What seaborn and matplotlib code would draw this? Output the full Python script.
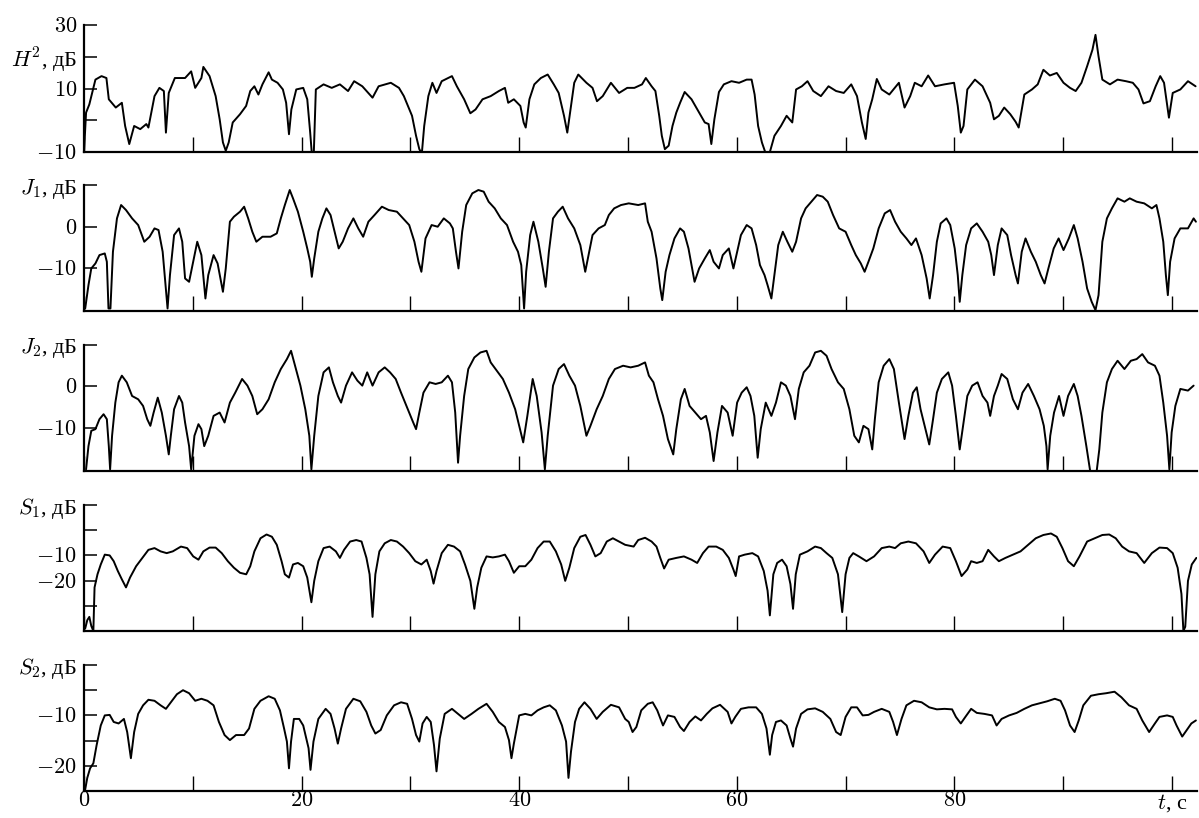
import numpy as np
import pandas as pd
import matplotlib
matplotlib.use("Agg")
import matplotlib.pyplot as plt
import seaborn as sns

# ---------------- data ----------------
t_h2 = [0, 0.19, 0.49, 1.05, 1.61, 2.06, 2.28, 2.92, 3.48, 3.78, 4.16, 4.61, 5.17, 5.73, 5.92,
        6.48, 6.93, 7.34, 7.53, 7.79, 8.35, 9.29, 9.85, 10.22, 10.79, 10.97, 11.54, 12.1, 12.47,
        12.77, 13.03, 13.3, 13.67, 14.34, 14.9, 15.28, 15.66, 16.03, 16.4, 16.97, 17.27, 17.79,
        18.28, 18.58, 18.84, 19.06, 19.51, 20.15, 20.52, 20.79, 20.94, 21.12, 21.31, 22.02, 22.77,
        23.52, 24.27, 24.83, 25.58, 26.52, 27.08, 28.2, 28.95, 29.4, 29.78, 30.15, 30.52, 30.82,
        31.05, 31.27, 31.65, 32.02, 32.4, 32.88, 33.82, 34.27, 34.94, 35.51, 35.99, 36.63, 37.38,
        38.13, 38.69, 38.99, 39.51, 40.11, 40.41, 40.6, 40.94, 41.39, 41.99, 42.62, 43.18, 43.63,
        44.12, 44.42, 44.68, 45.06, 45.43, 46.18, 46.74, 47.15, 47.68, 48.43, 49.18, 49.93,
        50.59, 51.29, 51.64, 52.17, 52.52, 52.87, 53.11, 53.39, 53.74, 54.09, 54.44, 54.79, 55.21,
        55.84, 56.54, 57.06, 57.41, 57.66, 57.94, 58.36, 58.81, 59.51, 60.21, 60.91, 61.36, 61.64,
        61.96, 62.31, 62.66, 63.0, 63.46, 64.06, 64.58, 65.1, 65.45, 65.98, 66.5, 67.03, 67.73,
        68.43, 69.13, 69.83, 70.52, 71.05, 71.5, 71.85, 72.1, 72.45, 72.87, 73.32, 74.02, 74.9,
        75.42, 75.94, 76.36, 76.99, 77.59, 78.22, 79.09, 79.97, 80.31, 80.59, 80.84, 81.19, 81.89,
        82.59, 83.29, 83.64, 84.09, 84.58, 85.14, 85.63, 85.91, 86.43, 87.13, 87.66, 88.18, 88.78,
        89.41, 90.03, 90.63, 91.15, 91.68, 92.2, 92.69, 92.97, 93.25, 93.6, 94.3, 95.0, 95.77,
        96.4, 96.92, 97.38, 97.97, 98.5, 98.92, 99.27, 99.72, 100.07, 100.77, 101.47, 102.17]
h2_db = [-10, 2.4, 5.0, 12.8, 13.9, 13.3, 6.6, 4.0, 5.5, -1.8, -7.5, -1.8, -2.8, -1.2, -2.3,
         7.6, 10.2, 9.2, -3.9, 8.6, 13.3, 13.3, 15.4, 10.2, 13.3, 16.8, 13.9, 7.6, 0.3,
         -7.0, -9.6, -7.0, -0.7, 1.9, 4.5, 9.2, 10.7, 8.1, 11.3, 15.1, 12.8, 11.8,
         9.7, 5.5, -4.4, 3.4, 9.7, 10.2, 6.6, -3.9, -10.5, -10.5, 9.7, 11.3, 10.2,
         11.3, 9.2, 12.3, 10.7, 7.1, 10.7, 11.8, 10.2, 7.6, 4.5, 1.4, -4.9, -9.1,
         -10.5, -1.8, 7.6, 11.8, 8.6, 12.3, 13.9, 10.7, 6.6, 2.2, 3.4, 6.6, 7.6,
         9.2, 10.2, 5.5, 6.6, 4.5, -0.7, -2.3, 6.6, 11.3, 13.3, 14.4, 11.3, 8.6,
         1.4, -3.9, 2.4, 11.8, 14.4, 11.8, 10.2, 6.0, 7.6, 11.8, 8.6, 10.2,
         10.2, 11.3, 13.3, 10.7, 9.2, 1.4, -4.9, -9.1, -8.0, -1.8, 2.4, 5.5, 8.9,
         6.6, 2.4, -0.7, -1.2, -7.5, 0.3, 8.9, 11.3, 12.3, 11.8, 12.8, 12.8, 8.1,
         -1.8, -7.0, -10.5, -10.5, -4.9, -1.8, 1.4, -0.7, 9.7, 10.7, 12.3, 9.2, 7.6,
         10.7, 9.2, 8.6, 11.3, 7.6, -0.7, -5.9, 2.4, 6.6, 13.0, 9.7, 8.1, 11.8,
         4.0, 7.6, 11.8, 10.7, 14.1, 10.7, 11.3, 11.8, 4.5, -3.9, -1.8, 9.7, 12.8,
         10.7, 5.5, 0.3, 1.4, 4.0, 1.9, -0.5, -2.3, 8.1, 9.7, 11.3, 15.9, 14.1,
         14.9, 11.8, 10.2, 9.2, 11.8, 17.0, 22.2, 26.9, 20.1, 12.8, 11.3, 12.8, 12.3,
         11.8, 9.7, 5.3, 6.0, 10.7, 13.9, 11.8, 0.8, 8.6, 9.7, 12.3, 10.7]

t_j1 = [0.11, 0.41, 0.67, 1.05, 1.42, 1.91, 2.1, 2.25, 2.43, 2.66, 3.03, 3.41, 3.86, 4.42, 4.98,
        5.54, 6.03, 6.48, 6.85, 7.23, 7.53, 7.68, 7.9, 8.28, 8.73, 9.03, 9.29, 9.66, 10.04, 10.41,
        10.79, 11.16, 11.42, 11.91, 12.28, 12.77, 13.03, 13.41, 13.78, 14.34, 14.72, 15.09, 15.47,
        15.84, 16.4, 17.15, 17.72, 18.09, 18.46, 18.91, 19.21, 19.66, 20.15, 20.52, 20.79, 20.94,
        21.16, 21.54, 21.91, 22.28, 22.66, 23.03, 23.41, 23.78, 24.27, 24.76, 25.21, 25.66, 26.14,
        26.7, 27.38, 28.01, 28.76, 29.33, 29.89, 30.37, 30.75, 31.01, 31.39, 31.95, 32.51, 33.07,
        33.63, 33.9, 34.19, 34.42, 34.76, 35.13, 35.69, 36.25, 36.74, 37.19, 37.75, 38.31, 38.88,
        39.44, 39.89, 40.19, 40.45, 40.64, 41.01, 41.31, 41.76, 42.17, 42.43, 42.73, 43.11, 43.56,
        44.0, 44.49, 45.06, 45.62, 46.07, 46.25, 46.74, 47.3, 47.87, 48.24, 48.73, 49.36,
        50.07, 50.94, 51.57, 51.82, 52.17, 52.62, 52.97, 53.15, 53.46, 53.81, 54.27, 54.79, 55.14,
        55.56, 55.84, 56.12, 56.54, 57.06, 57.52, 57.87, 58.36, 58.71, 59.27, 59.69, 59.97, 60.38,
        60.91, 61.36, 61.78, 62.13, 62.55, 62.83, 63.18, 63.46, 63.81, 64.23, 64.65, 65.1, 65.45,
        65.91, 66.33, 66.85, 67.38, 67.9, 68.36, 68.85, 69.41, 70.0, 70.52, 70.94, 71.4, 71.75,
        72.1, 72.55, 73.04, 73.6, 74.09, 74.55, 75.07, 75.59, 76.05, 76.47, 76.99, 77.45, 77.73,
        78.04, 78.39, 78.74, 79.27, 79.62, 80.03, 80.31, 80.49, 80.73, 81.08, 81.54, 82.06, 82.59,
        83.11, 83.39, 83.64, 83.99, 84.34, 84.86, 85.21, 85.63, 85.84, 86.19, 86.54, 87.03, 87.48,
        87.94, 88.29, 88.64, 89.13, 89.58, 90.03, 90.52, 90.98, 91.33, 91.78, 92.2, 92.62, 92.97,
        93.25, 93.6, 94.02, 94.48, 95.0, 95.63, 96.12, 96.75, 97.45, 98.15, 98.57, 98.85, 99.2,
        99.44, 99.62, 99.83, 100.24, 100.77, 101.47, 101.99, 102.2]
j1_db = [-19.6, -14, -10, -8.8, -6.8, -6.4, -8.4, -19.6, -19.6, -6, 2, 5.2, 4, 2, 0.4,
         -3.6, -2.4, -0.4, -0.8, -6, -15.2, -19.6, -11.6, -2, -0.4, -3.6, -12.4, -13.2, -8.4, -3.6,
         -6.8, -17.2, -11.6, -6.8, -8.8, -15.6, -10, 1.2, 2.4, 3.6, 4.8, 2, -1.2,
         -3.6, -2.4, -2.4, -1.6, 2, 5.2, 8.8, 6.8, 3.6, -1.2, -5.2, -8.4, -12,
         -7.6, -1.2, 2, 4.4, 2.8, -1.2, -5.2, -3.6, -0.4, 2, -0.4, -2.4, 1.2,
         2.8, 4.8, 4, 3.6, 2, 0.4, -3.6, -8.4, -10.8, -2.8, 0.4, 0, 2,
         0.8, -0.4, -6, -10, -1.2, 5.2, 8, 8.8, 8.4, 6, 4.4, 2, 0.4,
         -3.6, -6, -9.2, -19.6, -10.8, -2, 1.2, -3.6, -10, -14.4, -6, 2, 3.6,
         4.8, 2, -0.4, -4.4, -10.8, -8.4, -2, -0.4, 0.4, 2.8, 4.4, 5.2,
         5.6, 5.2, 5.6, 1.2, -1.2, -7.6, -14.8, -17.6, -10.8, -6.8, -2.8, -0.4, -1.2,
         -5.2, -9.2, -13.2, -10, -7.6, -5.6, -8.4, -10, -6.8, -5.2, -10, -6.8, -2,
         0.4, -0.4, -4.4, -9.2, -11.6, -14, -17.2, -11.6, -4.4, -1.2, -3.6, -6, -3.6,
         2, 4.4, 6, 7.6, 7.2, 6, 2.8, -0.4, -1.2, -4.4, -6.8, -8.8, -10.8,
         -8.4, -5.2, -0.4, 3.2, 4, 1.2, -1.2, -2.8, -4.4, -2.8, -6.8, -12.4, -17.2,
         -11.6, -3.6, 0.8, 2, 0.4, -5.2, -11.6, -18, -11.6, -4.4, -0.4, 0.8, -1.2,
         -3.6, -6.8, -11.6, -4.4, -0.4, -2, -6.8, -11.6, -13.6, -6, -2.8, -6, -8.4,
         -11.6, -13.6, -10, -5.2, -2.8, -5.6, -2.8, 0.4, -2.8, -8.4, -14.8, -18, -20,
         -16.4, -3.6, 2, 4.4, 6.8, 6, 6.8, 6, 5.6, 4.4, 5.2, 2, -3.6,
         -11.6, -16.4, -8.4, -2.8, -0.4, -0.4, 2, 1.2]

t_j2 = [0.19, 0.41, 0.67, 1.05, 1.42, 1.8, 2.1, 2.28, 2.4, 2.58, 2.88, 3.18, 3.48, 3.93, 4.42,
        4.98, 5.43, 5.81, 6.1, 6.4, 6.78, 7.15, 7.53, 7.79, 7.98, 8.28, 8.73, 9.03, 9.29, 9.66,
        9.85, 10.15, 10.52, 10.79, 11.05, 11.42, 11.91, 12.47, 12.92, 13.41, 13.9, 14.53, 15.02,
        15.47, 15.92, 16.4, 16.97, 17.53, 18.09, 18.65, 19.03, 19.4, 19.89, 20.34, 20.71, 20.9,
        21.16, 21.54, 22.02, 22.51, 22.88, 23.33, 23.63, 24.08, 24.64, 25.13, 25.58, 26.03, 26.52,
        27.08, 27.64, 28.13, 28.65, 29.14, 29.51, 29.89, 30.26, 30.52, 30.82, 31.2, 31.76, 32.32,
        32.88, 33.45, 33.82, 34.12, 34.38, 34.57, 34.94, 35.32, 35.88, 36.44, 37.0, 37.38, 37.94,
        38.5, 39.06, 39.63, 40.07, 40.37, 40.75, 41.24, 41.61, 42.06, 42.36, 42.62, 43.11, 43.63,
        44.12, 44.61, 45.13, 45.62, 46.18, 46.55, 47.12, 47.68, 48.24, 48.8, 49.55,
        50.24, 50.94, 51.57, 51.92, 52.34, 52.76, 53.22, 53.67, 54.16, 54.44, 54.86, 55.21, 55.66,
        56.19, 56.71, 57.17, 57.52, 57.87, 58.22, 58.64, 59.16, 59.62, 60.03, 60.45, 60.91, 61.26,
        61.61, 61.92, 62.2, 62.66, 63.18, 63.6, 64.06, 64.51, 64.93, 65.35, 65.7, 66.15, 66.68,
        67.2, 67.73, 68.25, 68.71, 69.3, 69.83, 70.35, 70.8, 71.22, 71.64, 72.1, 72.45, 72.69,
        73.04, 73.5, 74.02, 74.44, 74.9, 75.42, 75.77, 76.19, 76.54, 76.89, 77.34, 77.69, 78.04,
        78.39, 78.85, 79.44, 79.79, 80.14, 80.49, 80.84, 81.19, 81.64, 82.13, 82.59, 83.04, 83.29,
        83.64, 83.99, 84.34, 84.86, 85.38, 85.84, 86.26, 86.78, 87.31, 87.83, 88.22, 88.46, 88.57,
        88.81, 89.16, 89.62, 90.03, 90.45, 90.98, 91.33, 91.68, 92.13, 92.48, 93.08, 93.32, 93.6,
        94.02, 94.48, 95.0, 95.63, 96.22, 96.75, 97.27, 97.8, 98.43, 98.85, 99.2, 99.55, 99.76,
        99.97, 100.31, 100.77, 101.47, 101.99]
j2_db = [-20, -14.4, -10.7, -10.3, -7.9, -6.7, -7.9, -14.4, -20, -11.9, -3.9, 1, 2.6, 1, -2.3,
         -3.1, -4.7, -7.9, -9.5, -6.3, -2.7, -6.3, -11.9, -16.4, -11.9, -5.5, -2.3, -3.9, -8.7, -14.4,
         -20, -11.9, -9.1, -10.3, -14.4, -11.9, -7.1, -6.3, -8.7, -3.9, -1.5, 1.8, 0.2,
         -2.3, -6.7, -5.5, -3.1, 1, 4.2, 6.6, 8.6, 5, 0.2, -5.5, -11.9, -20,
         -11.9, -2.3, 3.4, 4.6, 1, -2.3, -3.9, 0.2, 3.4, 1.4, 0.2, 3.4, 0.2,
         3.4, 4.6, 3.4, 1.8, -1.5, -3.9, -6.3, -8.7, -10.3, -6.3, -1.5, 1, 0.6,
         1, 2.6, 1, -6.3, -18.4, -11.9, -2.3, 4.2, 7, 8.2, 8.6, 5.8, 3.8,
         1.8, -1.5, -5.5, -10.3, -13.5, -7.1, 1.8, -2.3, -11.1, -20, -11.9, 0.2, 4.2,
         5.4, 2.6, 0.2, -4.7, -11.9, -9.5, -5.5, -2.3, 1.8, 4.2, 5,
         4.6, 5, 5.8, 2.6, 1, -3.1, -7.1, -12.7, -16.4, -10.3, -3.1, -0.6, -4.7,
         -6.3, -7.9, -7.1, -11.1, -18, -11.1, -4.7, -6.3, -11.9, -3.9, -1.5, -0.2, -2.3,
         -7.1, -17.2, -10.3, -3.9, -7.1, -3.9, 1, 0.2, -2.3, -7.9, -0.6, 3.4, 5,
         8.2, 8.6, 7.4, 4.2, 1, -0.6, -5.5, -11.9, -13.5, -9.5, -10.3, -15.2, -7.9,
         1, 5, 6.6, 4.2, -3.9, -12.7, -7.1, -1.5, -0.2, -5.5, -10.3, -14, -7.9,
         -1.5, 1.8, 3.4, 0.2, -7.1, -15.2, -8.7, -2.3, 0.2, 1, -2.3, -3.9, -7.1,
         -2.3, 0.2, 3, 1.8, -3.1, -5.5, -1.5, 0.6, -2.3, -5.5, -9.5, -14.4, -20,
         -11.9, -6.3, -2.3, -7.1, -2.3, 0.6, -2.3, -7.1, -14.4, -20.4, -20.4, -15.2, -6.3,
         1, 4.2, 6.2, 4.2, 6.2, 6.6, 7.8, 5.8, 5, 2.6, -3.9, -11.9, -20,
         -11.1, -4.7, -0.6, -1, 0.2]

t_s1 = [0.11, 0.3, 0.49, 0.67, 0.86, 0.97, 1.24, 1.54, 1.91, 2.36, 2.73, 3.11, 3.48, 3.86, 4.23,
        4.79, 5.36, 5.92, 6.48, 7.04, 7.6, 8.16, 8.91, 9.48, 10.04, 10.52, 10.97, 11.54, 12.1,
        12.66, 13.22, 13.78, 14.34, 14.91, 15.28, 15.66, 16.22, 16.78, 17.27, 17.72, 18.16, 18.46,
        18.84, 19.21, 19.66, 20.15, 20.52, 20.9, 21.16, 21.54, 22.02, 22.58, 23.15, 23.52, 23.9,
        24.46, 25.02, 25.51, 25.96, 26.25, 26.52, 26.78, 27.15, 27.64, 28.2, 28.76, 29.33, 29.89,
        30.45, 31.01, 31.5, 31.87, 32.13, 32.4, 32.88, 33.45, 34.01, 34.57, 35.02, 35.51, 35.88,
        36.14, 36.52, 37.0, 37.57, 38.13, 38.69, 39.06, 39.51, 40.0, 40.56, 41.12, 41.69, 42.25,
        42.81, 43.37, 43.86, 44.23, 44.61, 45.06, 45.62, 46.1, 46.55, 47.0, 47.49, 48.05, 48.61,
        49.18, 49.74,
        50.52, 50.94, 51.57, 52.17, 52.62, 52.97, 53.32, 53.74, 54.44, 55.14, 55.84, 56.36, 56.89,
        57.41, 58.11, 58.71, 59.27, 59.69, 59.9, 60.21, 60.73, 61.43, 61.96, 62.48, 62.83, 63.04,
        63.36, 63.71, 64.16, 64.58, 64.93, 65.17, 65.42, 65.8, 66.5, 67.2, 67.73, 68.25, 68.78,
        69.3, 69.69, 70.0, 70.35, 70.7, 71.22, 71.92, 72.62, 73.32, 74.02, 74.55, 75.07, 75.77,
        76.47, 77.17, 77.69, 78.22, 78.92, 79.62, 80.14, 80.66, 81.19, 81.54, 82.06, 82.59, 83.11,
        83.64, 84.09, 84.69, 85.38, 86.08, 86.78, 87.48, 88.18, 88.88, 89.41, 89.93, 90.45, 90.98,
        91.5, 92.2, 92.9, 93.6, 94.23, 94.83, 95.42, 96.05, 96.75, 97.45, 98.15, 98.85, 99.55,
        100.07, 100.52, 100.87, 101.05, 101.22, 101.47, 101.82, 102.24]
s1_db = [-39, -35.7, -34.4, -38, -40, -22.7, -17.5, -13.6, -9.7, -10, -12.3, -16.2, -19.5, -22.7, -18.8,
         -14.3, -11, -7.8, -7.1, -8.4, -9.1, -8.4, -6.5, -7.1, -10.4, -11.7, -8.4, -6.9, -6.9,
         -9.1, -12.3, -14.9, -16.9, -17.5, -14.3, -8.4, -3.2, -1.7, -2.6, -5.8, -12.3, -17.5,
         -18.8, -13.6, -13, -14.3, -18.8, -28.6, -20.1, -12.3, -7.1, -6.5, -8.4, -11, -7.8,
         -4.5, -3.9, -4.5, -11, -17.5, -34.4, -17.5, -8.4, -5.2, -3.9, -4.5, -6.5, -9.1,
         -12.3, -13.6, -11.7, -16.2, -21.2, -16.2, -9.1, -5.8, -6.5, -8.4, -13.6, -20.1, -31.2,
         -22.7, -14.9, -10.4, -10.8, -10.4, -9.7, -12.3, -16.9, -14.3, -14.3, -11.7, -7.1, -4.5,
         -4.5, -8.4, -13.6, -20.1, -14.9, -7.1, -2.6, -1.9, -5.8, -10.4, -9.1, -4.5, -3.2,
         -4.5, -5.8,
         -6.5, -3.9, -3, -4.5, -6.5, -11, -15.2, -11.7, -11, -10.4, -11.7, -13, -9.1,
         -6.5, -6.5, -7.8, -11, -15.6, -18.2, -10.4, -9.7, -9.1, -10.4, -16.2, -24, -33.8,
         -17.5, -13, -11.7, -14.3, -21.4, -31.2, -17.5, -9.7, -8.4, -6.5, -7.1, -9.1, -11,
         -17.5, -32.5, -17.5, -11, -9.1, -10.4, -12.3, -10.4, -7.1, -6.5, -7.1, -5.2, -4.5,
         -5.2, -8.4, -13, -9.7, -6.5, -7.1, -12.3, -18.2, -15.6, -12.3, -13, -12.3, -7.8,
         -10.4, -12.3, -11, -9.7, -8.4, -5.8, -3.2, -1.9, -1.3, -2.6, -7.1, -12.3, -14.3,
         -10.4, -4.5, -3.2, -1.9, -1.7, -3.2, -6.5, -8.4, -9.1, -13, -9.1, -6.9, -7.1,
         -9.1, -14.9, -25.3, -40, -38.3, -20.1, -13.6, -11]

t_s2 = [0.11, 0.3, 0.56, 0.86, 1.16, 1.54, 1.91, 2.36, 2.73, 3.18, 3.67, 3.97, 4.31, 4.61, 4.98,
        5.43, 5.92, 6.48, 7.04, 7.53, 7.98, 8.54, 9.1, 9.66, 10.22, 10.79, 11.35, 11.91, 12.4,
        12.92, 13.41, 13.97, 14.72, 15.17, 15.66, 16.22, 16.97, 17.53, 18.01, 18.39, 18.65, 18.84,
        19.03, 19.29, 19.78, 20.15, 20.64, 20.82, 21.09, 21.54, 22.21, 22.66, 23.03, 23.33, 23.63,
        24.08, 24.76, 25.39, 25.96, 26.4, 26.78, 27.27, 27.83, 28.5, 29.14, 29.7, 30.15, 30.52,
        30.82, 31.12, 31.5, 31.87, 32.17, 32.4, 32.7, 33.15, 33.82, 34.38, 34.94, 35.62, 36.25,
        37.0, 37.57, 38.13, 38.69, 39.06, 39.29, 39.51, 40.0, 40.56, 41.12, 41.69, 42.25, 42.81,
        43.37, 43.93, 44.31, 44.53, 44.76, 45.13, 45.51, 46.0, 46.55, 47.12, 47.68, 48.43, 49.18,
        49.74,
        50.07, 50.42, 50.77, 51.22, 51.82, 52.27, 52.69, 53.22, 53.67, 54.27, 54.79, 55.14, 55.66,
        56.19, 56.71, 57.24, 57.76, 58.46, 59.16, 59.51, 59.86, 60.38, 61.08, 61.78, 62.31, 62.73,
        63.04, 63.25, 63.6, 64.06, 64.58, 64.93, 65.17, 65.45, 65.91, 66.5, 67.2, 67.9, 68.6,
        69.13, 69.55, 70.0, 70.52, 71.05, 71.57, 72.1, 72.62, 73.32, 74.02, 74.37, 74.72, 75.14,
        75.59, 76.29, 76.99, 77.69, 78.39, 79.09, 79.79, 80.14, 80.59, 81.01, 81.54, 82.06, 82.76,
        83.46, 83.88, 84.34, 85.03, 85.73, 86.43, 87.13, 87.83, 88.53, 89.23, 89.76, 90.17, 90.63,
        91.05, 91.43, 91.85, 92.55, 93.25, 93.95, 94.72, 95.35, 96.05, 96.75, 97.27, 97.9, 98.43,
        98.85, 99.55, 100.07, 100.42, 100.94, 101.36, 101.78, 102.2]
s2_db = [-24.7, -22.4, -20.5, -19.5, -15.9, -12, -10, -9.9, -11.3, -11.6, -10.7, -13.3, -18.5, -13.3, -9.7,
         -8, -6.9, -7.1, -8, -8.7, -7.4, -5.8, -5, -5.6, -7.1, -6.7, -7.1, -8, -11.3,
         -13.9, -14.9, -13.9, -13.9, -12.6, -8.7, -7.1, -6.2, -6.7, -9, -12.6, -15.2, -20.5,
         -15.2, -10.7, -10.7, -12, -16.5, -20.8, -15.2, -10.7, -8.7, -9.7, -12.6, -15.6, -12.6,
         -8.7, -6.7, -7.2, -9.3, -12, -13.6, -12.9, -10, -8, -7.4, -7.7, -10.7, -13.9,
         -15.2, -11.6, -10.3, -11.3, -15.9, -21.1, -14.6, -9.7, -8.7, -9.7, -10.7, -9.7, -8.7,
         -7.7, -9.3, -11.3, -12.3, -14.9, -18.5, -15.6, -10, -9.7, -10, -9, -8.4, -8,
         -9, -12, -15.2, -22.4, -17.2, -11.3, -8.7, -7.4, -8.7, -10.7, -9.3, -7.9, -8.4,
         -10.7,
         -11.3, -13.3, -12.3, -9, -7.7, -7.4, -9, -12, -10, -10.3, -12.3, -13.1, -11.3,
         -10.2, -11, -9.7, -8.6, -7.9, -9.3, -11.6, -10.3, -8.7, -8.4, -8.4, -9.7, -12.6,
         -17.8, -13.9, -11.3, -11, -12, -14.6, -16.2, -12.6, -9.7, -8.8, -8.6, -9.3, -10.7,
         -13.3, -13.9, -10.3, -8.4, -8.4, -10, -9.9, -9.3, -8.7, -9.3, -11.3, -13.9, -10.7,
         -8, -7.1, -7.4, -8.4, -8.8, -8.7, -8.8, -10.3, -11.6, -10.3, -8.7, -9.5, -9.7,
         -10, -12, -10.7, -10, -9.5, -8.7, -8, -7.6, -7.2, -6.7, -7.1, -9, -12,
         -13.3, -11, -8, -6.1, -5.8, -5.6, -5.3, -6.4, -8, -8.7, -11, -13.3, -11.6,
         -10.3, -10, -10.3, -12, -14.2, -12.9, -11.6, -11]

ylims = [(-10, 30), (-20.2, 10), (-20.4, 10), (-40, 10), (-25, 0)]
ytick_vals = [[30, 20, 10, 0, -10], [10, 0, -10], [10, 0, -10],
              [10, 0, -10, -20, -30], [0, -5, -10, -15, -20]]
ytick_text = [["$30$", "$H^2$, дБ", "$10$", "", "$-10$"],
              ["$J_1$, дБ", "$0$", "$-10$"],
              ["$J_2$, дБ", "$0$", "$-10$"],
              ["$S_1$, дБ", "", "$-10$", "$-20$", ""],
              ["$S_2$, дБ", "", "$-10$", "", "$-20$"]]
xtick_vals = [0, 10, 20, 30, 40, 50, 60, 70, 80, 90, 100]
xtick_text = ["$0$", "", "$20$", "", "$40$", "", "$60$", "", "$80$", "", "$t$, с"]

# ---------------- style ----------------
sns.set_theme(style="ticks")
plt.rcParams['font.family'] = ['Liberation Serif', 'DejaVu Serif']
plt.rcParams['mathtext.fontset'] = 'cm'
plt.rcParams['axes.unicode_minus'] = True

W, H = 1199, 818
fig = plt.figure(figsize=(W / 100, H / 100), dpi=100)
left_px, right_px = 84, 1197
rows_px = [(25, 152), (185, 311), (345, 471), (505, 631), (665, 791)]

series = [(t_h2, h2_db), (t_j1, j1_db), (t_j2, j2_db), (t_s1, s1_db), (t_s2, s2_db)]

for i, ((tt, vv), (top, bot)) in enumerate(zip(series, rows_px)):
    ax = fig.add_axes([left_px / W, 1 - bot / H, (right_px - left_px) / W, (bot - top) / H])
    df = pd.DataFrame({"t": tt, "v": vv})
    sns.lineplot(data=df, x="t", y="v", ax=ax, color="black", linewidth=1.4,
                 estimator=None, sort=False)
    ax.set_xlim(0, 102.3)
    ax.set_ylim(*ylims[i])
    ax.set_xlabel("")
    ax.set_ylabel("")
    for s in ("top", "right"):
        ax.spines[s].set_visible(False)
    for s in ("left", "bottom"):
        ax.spines[s].set_linewidth(1.6)
        ax.spines[s].set_color("black")
    ax.set_yticks(ytick_vals[i])
    ax.set_yticklabels(ytick_text[i])
    ax.set_xticks(xtick_vals)
    if i == len(series) - 1:
        ax.set_xticklabels(xtick_text)
    else:
        ax.set_xticklabels([])
    ax.tick_params(axis="y", direction="in", length=9, width=1.1, labelsize=16, pad=5,
                   colors="black")
    ax.tick_params(axis="x", direction="in", length=11, width=1.0, labelsize=16, pad=1,
                   colors="black")
    ax.set_facecolor("white")

fig.savefig("out.png", dpi=100, facecolor="white")
